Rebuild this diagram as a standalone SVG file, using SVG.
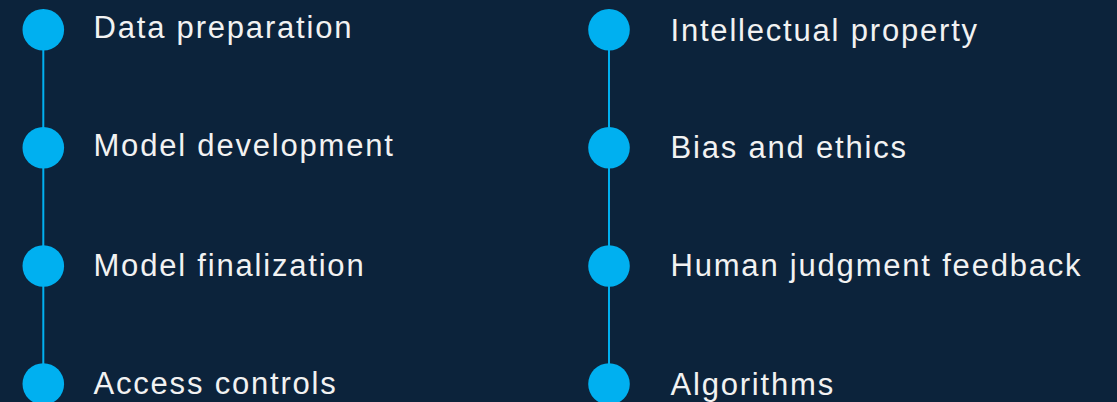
<svg xmlns="http://www.w3.org/2000/svg" width="1117" height="402" viewBox="0 0 1117 402">
<style>
.dot{fill:#00b0f0}
.con{stroke:#00b0f0;stroke-width:2;fill:none}
.lbl{font-family:"Liberation Sans",Arial,sans-serif;font-size:31px;fill:#f2f2f2;letter-spacing:1.8px}
</style>
<rect width="1117" height="402" fill="#0c233b"/>
<g id="connectors">
<line class="con" x1="43.3" y1="30" x2="43.3" y2="384"/>
<line class="con" x1="609" y1="30" x2="609" y2="384"/>
</g>
<g id="n1"><circle class="dot" cx="43.3" cy="29.8" r="20.8"/><text class="lbl" x="93.5" y="37.5">Data preparation</text></g>
<g id="n2"><circle class="dot" cx="43.3" cy="147.8" r="20.8"/><text class="lbl" x="93.5" y="156">Model development</text></g>
<g id="n3"><circle class="dot" cx="43.3" cy="266" r="20.8"/><text class="lbl" x="93.5" y="276">Model finalization</text></g>
<g id="n4"><circle class="dot" cx="43.3" cy="384" r="20.8"/><text class="lbl" x="93.5" y="394">Access controls</text></g>
<g id="n5"><circle class="dot" cx="609" cy="29.8" r="20.8"/><text class="lbl" x="670.5" y="40.7">Intellectual property</text></g>
<g id="n6"><circle class="dot" cx="609" cy="147.8" r="20.8"/><text class="lbl" x="670.5" y="158.3">Bias and ethics</text></g>
<g id="n7"><circle class="dot" cx="609" cy="266" r="20.8"/><text class="lbl" x="670.5" y="276.3">Human judgment feedback</text></g>
<g id="n8"><circle class="dot" cx="609" cy="384" r="20.8"/><text class="lbl" x="670.5" y="395">Algorithms</text></g>
</svg>
